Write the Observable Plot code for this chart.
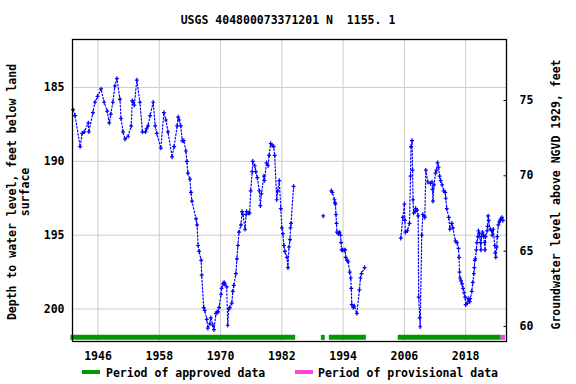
<!DOCTYPE html>
<html><head><meta charset="utf-8">
<script src="https://cdn.jsdelivr.net/npm/d3@7"></script>
<script src="https://cdn.jsdelivr.net/npm/@observablehq/plot@0.6"></script>
<style>
body{margin:0;background:#fff;}
#wrap{position:relative;width:576px;height:384px;overflow:hidden;font-family:"DejaVu Sans Mono",monospace;font-weight:bold;font-size:11.5px;color:#000;}
.abs{position:absolute;white-space:pre;line-height:14px;}
</style></head><body>
<div id="wrap">
<div id="chart" class="abs" style="left:0;top:0"></div>
<div class="abs" style="left:0;top:13px;width:576px;text-align:center">USGS 404800073371201 N  1155. 1</div>
<div class="abs" style="left:-131.5px;top:179px;width:300px;height:26px;line-height:13px;text-align:center;transform:rotate(-90deg)">Depth to water level, feet below land
surface</div>
<div class="abs" style="left:396px;top:187.5px;width:320px;line-height:13px;text-align:center;transform:rotate(-90deg)">Groundwater level above NGVD 1929, feet</div>
<div class="abs" style="left:82px;top:370px;width:18px;height:4px;background:#009900"></div>
<div class="abs" style="left:106px;top:366px">Period of approved data</div>
<div class="abs" style="left:295px;top:370px;width:18px;height:4px;background:#ff44dd"></div>
<div class="abs" style="left:318px;top:366px">Period of provisional data</div>
</div>
<script>
// Measured water levels (decimal year, depth below land surface in feet)
const years1 = [1941.1,1941.5,1942.5,1942.9,1943.3,1944.1,1944.2,1945.0,1945.4,1945.9,
1946.6,1947.2,1947.8,1948.2,1948.5,1948.9,1949.3,1949.7,1950.3,1950.5,
1950.9,1951.3,1951.9,1952.5,1952.7,1952.9,1953.1,1953.6,1954.2,1954.7,
1955.3,1955.5,1955.8,1956.2,1956.8,1957.2,1957.5,1958.3,1958.9,1959.3,
1959.7,1960.5,1960.9,1961.5,1961.7,1961.9,1962.2,1962.5,1962.8,1963.2,
1963.4,1963.6,1964.0,1964.2,1964.4,1965.2,1965.4,1965.6,1965.8,1966.2,
1966.3,1966.7,1966.9,1967.3,1967.5,1967.9,1968.1,1968.5,1968.7,1969.1,
1969.3,1969.5,1969.7,1970.1,1970.2,1970.5,1970.7,1970.8,1971.2,1971.4,
1971.6,1971.8,1972.2,1972.4,1972.6,1973.0,1973.2,1973.4,1973.6,1974.0,
1974.2,1974.4,1974.8,1975.0,1975.1,1975.5,1975.7,1975.9,1976.2,1976.3,
1976.7,1976.9,1977.2,1977.6,1977.8,1978.0,1978.5,1978.6,1979.0,1979.3,
1979.5,1979.8,1980.1,1980.4,1980.6,1981.0,1981.2,1981.5,1981.8,1982.0,
1982.2,1982.4,1982.6,1983.0,1983.2,1983.4,1983.6,1983.7,1983.8,1984.3];
const depths1 = [186.5,186.9,189.0,188.1,188.0,187.4,188.0,186.7,186.0,185.6,
185.1,186.0,186.6,187.4,186.8,186.0,184.9,184.4,185.8,187.1,
188.0,188.5,188.3,187.6,185.9,186.0,186.2,184.5,186.0,188.0,
188.0,187.8,187.6,186.9,186.0,187.6,188.1,189.1,186.7,187.2,
188.0,189.7,189.0,187.6,187.0,187.2,187.6,188.6,188.6,189.3,
190.0,190.8,191.2,192.1,192.7,193.9,194.3,195.7,196.1,196.7,
197.7,199.9,200.1,200.7,201.3,201.0,200.6,201.1,201.4,200.3,
200.2,200.2,199.9,199.0,198.6,198.3,198.2,198.3,198.5,201.1,
200.0,199.9,199.6,198.8,198.4,197.6,196.6,195.7,194.8,194.3,
193.4,193.6,194.6,193.6,193.4,193.5,193.5,192.0,190.7,190.0,
190.3,190.7,191.1,192.0,193.0,192.2,191.0,191.3,190.1,190.3,
189.6,188.8,188.9,189.0,189.6,192.6,192.0,191.3,193.2,194.5,
194.9,195.7,196.1,196.5,197.2,195.8,195.3,194.5,194.2,191.7];
const years2 = [1990.1];
const depths2 = [193.7];
const years3 = [1991.7,1991.9,1992.3,1992.4,1992.5,1992.6,1992.7,1992.8,1993.1,1993.3,
1993.5,1993.6,1993.7,1993.9,1994.2,1994.4,1994.5,1994.8,1995.0,1995.3,
1995.5,1995.6,1995.7,1996.0,1996.2,1996.7,1997.2,1997.4,1997.6,1998.2];
const depths3 = [192.0,192.1,192.6,192.8,192.9,193.6,194.2,194.8,194.9,194.8,
195.0,195.5,196.0,196.0,196.0,196.0,196.5,196.7,196.8,197.5,
197.9,198.6,199.7,199.9,199.8,200.3,198.7,197.9,197.6,197.2];
const years4 = [2005.3,2005.7,2006.0,2006.1,2006.2,2006.6,2007.0,2007.2,2007.3,2007.5,
2007.6,2007.7,2007.8,2008.1,2008.2,2008.5,2008.7,2008.8,2009.0,2009.1,
2009.4,2009.6,2009.9,2010.0,2010.2,2010.6,2011.1,2011.4,2011.5,2011.6,
2011.8,2012.1,2012.3,2012.5,2012.7,2012.9,2013.1,2013.4,2013.7,2014.0,
2014.1,2014.3,2014.7,2014.9,2015.3,2015.5,2016.0,2016.3,2016.6,2016.7,
2016.8,2016.9,2017.1,2017.3,2017.5,2017.7,2017.9,2018.0,2018.3,2018.5,
2018.8,2018.9,2019.2,2019.4,2019.6,2019.7,2019.8,2019.9,2020.1,2020.2,
2020.4,2020.5,2020.7,2020.9,2021.0,2021.1,2021.3,2021.5,2021.7,2021.8,
2021.9,2022.2,2022.3,2022.4,2022.5,2022.8,2023.1,2023.2,2023.4,2023.7,
2023.8,2023.9,2024.1,2024.2,2024.4,2024.6,2024.8,2024.9,2025.1,2025.3];
const depths4 = [195.2,193.8,192.9,194.0,194.8,194.7,194.2,191.0,189.0,188.6,
190.6,192.6,193.5,193.4,193.2,193.3,193.7,199.2,200.6,201.2,
195.0,193.6,193.7,193.8,190.6,191.4,191.5,191.4,191.9,192.7,
191.6,190.8,190.6,190.1,190.4,191.0,191.3,191.6,192.0,192.1,
192.5,193.2,193.8,194.6,194.2,194.5,195.4,195.5,195.9,196.5,
197.5,197.9,198.1,198.3,198.6,198.9,199.2,199.7,199.6,199.3,
199.5,199.3,198.8,198.2,197.6,197.2,196.7,196.6,196.0,195.5,
195.1,194.7,194.9,195.5,196.0,195.1,194.8,195.0,195.5,196.0,
195.1,194.7,194.4,193.7,194.0,194.6,194.7,195.0,194.6,195.7,
196.2,196.5,195.8,195.1,194.3,194.1,194.0,193.9,193.8,194.0];

// Data-approval periods (decimal years)
const approvedStart = [1940.7, 1989.75, 1991.3, 2004.8];
const approvedEnd   = [1984.7, 1990.5, 1998.55, 2024.97];
const provisionalStart = [2024.97];
const provisionalEnd   = [2025.8];

// Axis ticks
const xTicks = [1946, 1958, 1970, 1982, 1994, 2006, 2018];
const depthTicks = [185, 190, 195, 200];
const elevTicks = [60, 65, 70, 75];

// Right-axis conversion as drawn on the chart (elevation -> depth position)
const elevRefValue = 75, elevRefDepth = 185.88, depthPerElev = 1.02;
const toDepth = e => elevRefDepth + (elevRefValue - e) * depthPerElev;
const toElev = d => elevRefValue - (d - elevRefDepth) / depthPerElev;

const segs = [[years1, depths1], [years2, depths2], [years3, depths3], [years4, depths4]];
const rows = segs.flatMap(([ys, ds], s) => ys.map((y, i) => ({year: y, depth: ds[i], seg: s})));
const approved = approvedStart.map((s, i) => ({start: s, end: approvedEnd[i]}));
const provisional = provisionalStart.map((s, i) => ({start: s, end: provisionalEnd[i]}));
const barDepth = 201.92;

// open "+" marker drawn as two strokes
const plusSymbol = {
  draw(context, size) {
    const r = Math.sqrt(size / Math.PI);
    context.moveTo(-r * 0.85, 0); context.lineTo(r * 0.85, 0);
    context.moveTo(0, -r); context.lineTo(0, r);
  }
};

const chart = Plot.plot({
  width: 576, height: 360,
  marginLeft: 72, marginRight: 70, marginTop: 39, marginBottom: 19,
  style: {fontFamily: '"DejaVu Sans Mono", monospace', fontSize: "11.5px", fontWeight: "bold", background: "white", color: "black", overflow: "visible"},
  x: {domain: [1941.0, 2026.0], label: null},
  y: {domain: [181.75, 202.2], reverse: true, label: null},
  marks: [
    Plot.gridX(xTicks, {stroke: "#cccccc", strokeOpacity: 1}),
    Plot.gridY(depthTicks, {stroke: "#cccccc", strokeOpacity: 1}),
    Plot.axisX(xTicks, {tickSize: 0, tickPadding: 10, tickFormat: d => String(d), label: null}),
    Plot.axisY(depthTicks, {anchor: "left", tickSize: 0, tickPadding: 8, label: null}),
    Plot.axisY(elevTicks.map(toDepth), {anchor: "right", tickSize: -3.5, tickPadding: 16.5, tickFormat: d => String(Math.round(toElev(d))), label: null}),
    Plot.ruleY(approved, {x1: "start", x2: "end", y: () => barDepth, stroke: "#009900", strokeWidth: 5}),
    Plot.ruleY(provisional, {x1: "start", x2: "end", y: () => barDepth, stroke: "#ff44dd", strokeWidth: 5}),
    Plot.line(rows, {x: "year", y: "depth", z: "seg", stroke: "#0000ff", strokeWidth: 1.2, strokeDasharray: "1.5,2"}),
    Plot.dot(rows, {x: "year", y: "depth", symbol: plusSymbol, fill: "none", stroke: "#0000ff", strokeWidth: 1.2, r: 2.3}),
    Plot.frame({stroke: "black", strokeWidth: 1.3})
  ]
});
document.getElementById("chart").appendChild(chart);
</script>
</body></html>
